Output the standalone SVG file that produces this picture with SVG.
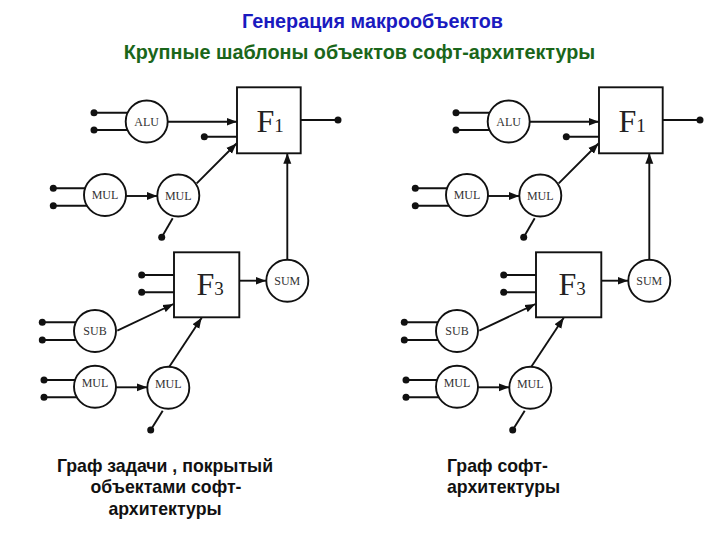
<svg xmlns="http://www.w3.org/2000/svg" width="720" height="540" viewBox="0 0 720 540">
<defs>
<marker id="ah" markerUnits="userSpaceOnUse" markerWidth="11" markerHeight="9" refX="10.5" refY="4.5" orient="auto">
<path d="M0,0.5 L10.5,4.5 L0,8.5 z" fill="#111"/>
</marker>
<style>
.ln{stroke:#111;stroke-width:1.9;fill:none}
.ar{stroke:#111;stroke-width:1.9;fill:none;marker-end:url(#ah)}
.dot{fill:#111}
.op{fill:#fff;stroke:#111;stroke-width:1.9}
.fb{fill:#fff;stroke:#111;stroke-width:1.9}
.ol{font-family:"Liberation Serif","Times New Roman",serif;font-size:12px;fill:#333;text-anchor:middle}
.fl{font-family:"Liberation Serif","Times New Roman",serif;font-size:32px;fill:#222}
.fs{font-size:19px}
.t1{font-family:"Liberation Sans",Arial,sans-serif;font-weight:bold;font-size:19.8px;fill:#1a1abf;text-anchor:middle}
.t2{font-family:"Liberation Sans",Arial,sans-serif;font-weight:bold;font-size:19.8px;fill:#1a661a;text-anchor:middle}
.cap{font-family:"Liberation Sans",Arial,sans-serif;font-weight:bold;font-size:17.7px;fill:#111}
</style>
</defs>
<rect width="720" height="540" fill="#fff"/>
<g id="titles">
<text class="t1" x="372.5" y="27.5">Генерация макрообъектов</text>
<text class="t2" x="359.5" y="58.7">Крупные шаблоны объектов софт-архитектуры</text>
</g>

<!-- LEFT GRAPH -->
<g id="left-connectors">
<line class="ln" x1="94" y1="112.7" x2="135" y2="112.7"/>
<line class="ln" x1="94" y1="130" x2="135" y2="130"/>
<circle class="dot" cx="94" cy="112.7" r="3.5"/><circle class="dot" cx="94" cy="130" r="3.5"/>
<line class="ar" x1="167.5" y1="121.7" x2="237" y2="121.7"/>
<line class="ln" x1="204.3" y1="136.7" x2="237" y2="136.7"/>
<circle class="dot" cx="204.3" cy="136.7" r="3.5"/>
<line class="ln" x1="53.3" y1="188.3" x2="92" y2="188.3"/>
<line class="ln" x1="53.3" y1="205.7" x2="92" y2="205.7"/>
<circle class="dot" cx="53.3" cy="188.3" r="3.5"/><circle class="dot" cx="53.3" cy="205.7" r="3.5"/>
<line class="ar" x1="126" y1="196" x2="157.3" y2="196"/>
<line class="ar" x1="196.7" y1="183.3" x2="236.5" y2="143.5"/>
<line class="ln" x1="172.7" y1="218.3" x2="161.7" y2="237.3"/>
<circle class="dot" cx="161.7" cy="237.3" r="3.5"/>
<line class="ln" x1="300.7" y1="120" x2="338" y2="120"/>
<circle class="dot" cx="338" cy="120" r="3.5"/>
<line class="ar" x1="287.3" y1="259.7" x2="287.3" y2="153.3"/>
<line class="ln" x1="141.7" y1="275" x2="174" y2="275"/>
<line class="ln" x1="141.7" y1="292.3" x2="174" y2="292.3"/>
<circle class="dot" cx="141.7" cy="275" r="3.5"/><circle class="dot" cx="141.7" cy="292.3" r="3.5"/>
<line class="ar" x1="239.3" y1="280.7" x2="266" y2="280.7"/>
<line class="ln" x1="42.3" y1="322.3" x2="82" y2="322.3"/>
<line class="ln" x1="42.3" y1="340" x2="82" y2="340"/>
<circle class="dot" cx="42.3" cy="322.3" r="3.5"/><circle class="dot" cx="42.3" cy="340" r="3.5"/>
<line class="ar" x1="117.3" y1="330.7" x2="173.5" y2="304"/>
<line class="ln" x1="44" y1="380" x2="82" y2="380"/>
<line class="ln" x1="44" y1="397.3" x2="82" y2="397.3"/>
<circle class="dot" cx="44" cy="380" r="3.5"/><circle class="dot" cx="44" cy="397.3" r="3.5"/>
<line class="ar" x1="116" y1="387.3" x2="147.3" y2="387.3"/>
<line class="ar" x1="169.3" y1="366.8" x2="201.7" y2="317.7"/>
<line class="ln" x1="162.7" y1="410.7" x2="150.7" y2="430"/>
<circle class="dot" cx="150.7" cy="430" r="3.5"/>
</g>
<g id="L-F1"><rect class="fb" x="237" y="87.3" width="63.7" height="66"/><text class="fl" x="256.5" y="131.7">F<tspan class="fs">1</tspan></text></g>
<g id="L-ALU"><circle class="op" cx="146.7" cy="121.5" r="21"/><text class="ol" x="146.7" y="125.8">ALU</text></g>
<g id="L-MUL1"><circle class="op" cx="105" cy="195" r="21"/><text class="ol" x="105" y="199.3">MUL</text></g>
<g id="L-MUL2"><circle class="op" cx="178.3" cy="195.5" r="21"/><text class="ol" x="178.3" y="199.8">MUL</text></g>
<g id="L-F3"><rect class="fb" x="174" y="252.3" width="65.3" height="65"/><text class="fl" x="196.5" y="295">F<tspan class="fs">3</tspan></text></g>
<g id="L-SUM"><circle class="op" cx="287.3" cy="280.7" r="21"/><text class="ol" x="287.3" y="285">SUM</text></g>
<g id="L-SUB"><circle class="op" cx="95" cy="331" r="21"/><text class="ol" x="95" y="335.3">SUB</text></g>
<g id="L-MUL3"><circle class="op" cx="95" cy="386.7" r="21"/><text class="ol" x="95" y="387">MUL</text></g>
<g id="L-MUL4"><circle class="op" cx="168.3" cy="387.7" r="21"/><text class="ol" x="168.3" y="388">MUL</text></g>

<!-- RIGHT GRAPH -->
<g transform="translate(362,0)">
<g id="right-connectors">
<line class="ln" x1="94" y1="112.7" x2="135" y2="112.7"/>
<line class="ln" x1="94" y1="130" x2="135" y2="130"/>
<circle class="dot" cx="94" cy="112.7" r="3.5"/><circle class="dot" cx="94" cy="130" r="3.5"/>
<line class="ar" x1="167.5" y1="121.7" x2="237" y2="121.7"/>
<line class="ln" x1="204.3" y1="136.7" x2="237" y2="136.7"/>
<circle class="dot" cx="204.3" cy="136.7" r="3.5"/>
<line class="ln" x1="53.3" y1="188.3" x2="92" y2="188.3"/>
<line class="ln" x1="53.3" y1="205.7" x2="92" y2="205.7"/>
<circle class="dot" cx="53.3" cy="188.3" r="3.5"/><circle class="dot" cx="53.3" cy="205.7" r="3.5"/>
<line class="ar" x1="126" y1="196" x2="157.3" y2="196"/>
<line class="ar" x1="196.7" y1="183.3" x2="236.5" y2="143.5"/>
<line class="ln" x1="172.7" y1="218.3" x2="161.7" y2="237.3"/>
<circle class="dot" cx="161.7" cy="237.3" r="3.5"/>
<line class="ln" x1="300.7" y1="120" x2="338" y2="120"/>
<circle class="dot" cx="338" cy="120" r="3.5"/>
<line class="ar" x1="287.3" y1="259.7" x2="287.3" y2="153.3"/>
<line class="ln" x1="141.7" y1="275" x2="174" y2="275"/>
<line class="ln" x1="141.7" y1="292.3" x2="174" y2="292.3"/>
<circle class="dot" cx="141.7" cy="275" r="3.5"/><circle class="dot" cx="141.7" cy="292.3" r="3.5"/>
<line class="ar" x1="239.3" y1="280.7" x2="266" y2="280.7"/>
<line class="ln" x1="42.3" y1="322.3" x2="82" y2="322.3"/>
<line class="ln" x1="42.3" y1="340" x2="82" y2="340"/>
<circle class="dot" cx="42.3" cy="322.3" r="3.5"/><circle class="dot" cx="42.3" cy="340" r="3.5"/>
<line class="ar" x1="117.3" y1="330.7" x2="173.5" y2="304"/>
<line class="ln" x1="44" y1="380" x2="82" y2="380"/>
<line class="ln" x1="44" y1="397.3" x2="82" y2="397.3"/>
<circle class="dot" cx="44" cy="380" r="3.5"/><circle class="dot" cx="44" cy="397.3" r="3.5"/>
<line class="ar" x1="116" y1="387.3" x2="147.3" y2="387.3"/>
<line class="ar" x1="169.3" y1="366.8" x2="201.7" y2="317.7"/>
<line class="ln" x1="162.7" y1="410.7" x2="150.7" y2="430"/>
<circle class="dot" cx="150.7" cy="430" r="3.5"/>
</g>
<g id="R-F1"><rect class="fb" x="237" y="87.3" width="63.7" height="66"/><text class="fl" x="256.5" y="131.7">F<tspan class="fs">1</tspan></text></g>
<g id="R-ALU"><circle class="op" cx="146.7" cy="121.5" r="21"/><text class="ol" x="146.7" y="125.8">ALU</text></g>
<g id="R-MUL1"><circle class="op" cx="105" cy="195" r="21"/><text class="ol" x="105" y="199.3">MUL</text></g>
<g id="R-MUL2"><circle class="op" cx="178.3" cy="195.5" r="21"/><text class="ol" x="178.3" y="199.8">MUL</text></g>
<g id="R-F3"><rect class="fb" x="174" y="252.3" width="65.3" height="65"/><text class="fl" x="196.5" y="295">F<tspan class="fs">3</tspan></text></g>
<g id="R-SUM"><circle class="op" cx="287.3" cy="280.7" r="21"/><text class="ol" x="287.3" y="285">SUM</text></g>
<g id="R-SUB"><circle class="op" cx="95" cy="331" r="21"/><text class="ol" x="95" y="335.3">SUB</text></g>
<g id="R-MUL3"><circle class="op" cx="95" cy="386.7" r="21"/><text class="ol" x="95" y="387">MUL</text></g>
<g id="R-MUL4"><circle class="op" cx="168.3" cy="387.7" r="21"/><text class="ol" x="168.3" y="388">MUL</text></g>
</g>

<g id="captions">
<text class="cap" text-anchor="middle" x="165" y="471.7">Граф задачи , покрытый</text>
<text class="cap" text-anchor="middle" x="166" y="493.3">объектами софт-</text>
<text class="cap" text-anchor="middle" x="165" y="514.5">архитектуры</text>
<text class="cap" x="447" y="471.7">Граф софт-</text>
<text class="cap" x="447" y="493.3">архитектуры</text>
</g>
</svg>
